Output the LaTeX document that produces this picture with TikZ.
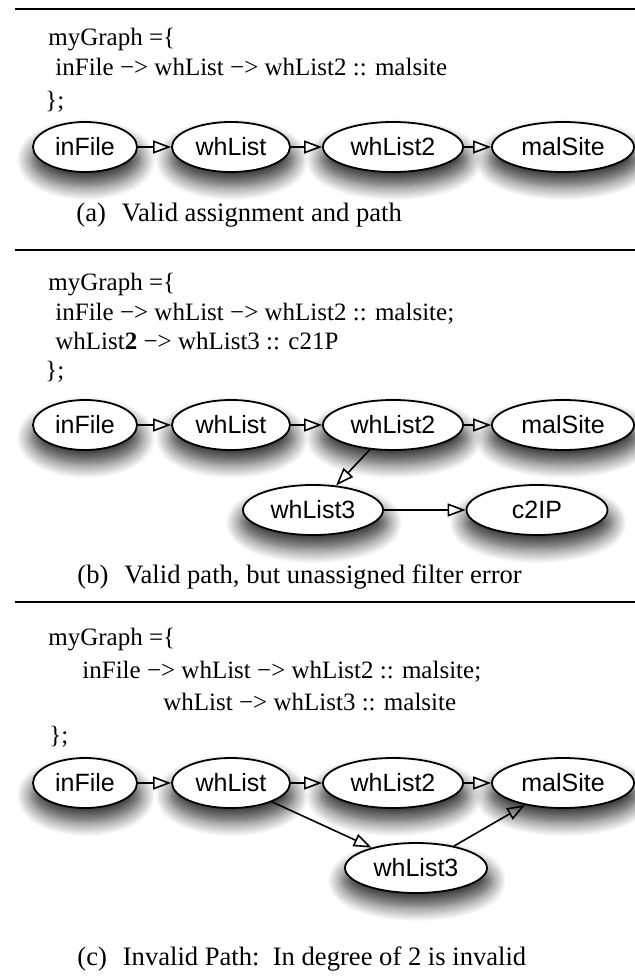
\documentclass[tikz,border=0pt]{standalone}
\usepackage{fontspec}
\setmainfont{Liberation Serif}
\setsansfont{Liberation Sans}
\usetikzlibrary{arrows.meta,shapes.geometric,shadows.blur}

\begin{document}
\begin{tikzpicture}[x=0.5pt, y=-0.5pt,
  %% Filter nodes — white ellipses with a soft drop shadow
  fnode/.style={
    draw=black, fill=white, ellipse, line width=0.9pt,
    minimum height=25pt, inner sep=0pt,
    font=\sffamily\fontsize{12.5}{15}\selectfont,
    blur shadow={shadow xshift=0.5pt, shadow yshift=-6pt, shadow scale=1.05,
      shadow blur radius=7pt, shadow blur steps=14, shadow opacity=80}
  },
  %% Code lines and captions
  code/.style={anchor=base west, inner sep=0pt, font=\fontsize{12.5}{15}\selectfont},
  capt/.style={anchor=base west, inner sep=0pt, font=\fontsize{13.3}{16}\selectfont},
  divider/.style={line width=1pt},
  arr/.style={-{Triangle[open, length=9pt, width=6.5pt]}, line width=0.8pt}
]
\useasboundingbox (0,0) rectangle (635,978);

%% ── (a) ──────────────────────────────────────────────────────
\draw[divider] (15,9) -- (635,9);
\node[code] (aL1) at (48,46)  {myGraph =\{};
\node[code] (aL2) at (55,76)  {inFile −> whList −> whList2 :: malsite};
\node[code] (aL3) at (45,109) {\};};

\node[fnode, minimum width=52pt] (aIn)  at (85,147)  {inFile};
\node[fnode, minimum width=59pt] (aWh)  at (231,147) {whList};
\node[fnode, minimum width=70pt] (aWh2) at (393,147) {whList2};
\node[fnode, minimum width=71pt] (aMal) at (563,147) {malSite};

\draw[arr] (aIn)  -- (aWh);
\draw[arr] (aWh)  -- (aWh2);
\draw[arr] (aWh2) -- (aMal);

\node[capt] (aCap) at (76,222) {(a)\hspace{0.6em}Valid assignment and path};

%% ── (b) ──────────────────────────────────────────────────────
\draw[divider] (15,250) -- (635,250);
\node[code] (bL1) at (48,291) {myGraph =\{};
\node[code] (bL2) at (55,321) {inFile −> whList −> whList2 :: malsite;};
\node[code] (bL3) at (55,350) {whList\textbf{2} −> whList3 :: c21P};
\node[code] (bL4) at (45,378) {\};};

\node[fnode, minimum width=52pt] (bIn)  at (85,425)  {inFile};
\node[fnode, minimum width=59pt] (bWh)  at (231,425) {whList};
\node[fnode, minimum width=70pt] (bWh2) at (393,425) {whList2};
\node[fnode, minimum width=71pt] (bMal) at (563,425) {malSite};
\node[fnode, minimum width=70pt] (bWh3) at (313,510) {whList3};
\node[fnode, minimum width=70.5pt] (bC2ip) at (537,510) {c2IP};

\draw[arr] (bIn)  -- (bWh);
\draw[arr] (bWh)  -- (bWh2);
\draw[arr] (bWh2) -- (bMal);
\draw[arr] (bWh2) -- (bWh3);
\draw[arr] (bWh3) -- (bC2ip);

\node[capt] (bCap) at (77,583) {(b)\hspace{0.6em}Valid path, but unassigned filter error};

%% ── (c) ──────────────────────────────────────────────────────
\draw[divider] (15,602) -- (635,602);
\node[code] (cL1) at (48,645)  {myGraph =\{};
\node[code] (cL2) at (82,678)  {inFile −> whList −> whList2 :: malsite;};
\node[code] (cL3) at (163,710) {whList −> whList3 :: malsite};
\node[code] (cL4) at (49,743)  {\};};

\node[fnode, minimum width=52pt] (cIn)  at (85,783)  {inFile};
\node[fnode, minimum width=59pt] (cWh)  at (231,783) {whList};
\node[fnode, minimum width=70pt] (cWh2) at (393,783) {whList2};
\node[fnode, minimum width=71pt] (cMal) at (563,783) {malSite};
\node[fnode, minimum width=71pt] (cWh3) at (416,868) {whList3};

\draw[arr] (cIn)  -- (cWh);
\draw[arr] (cWh)  -- (cWh2);
\draw[arr] (cWh2) -- (cMal);
\draw[arr] (cWh)  -- (cWh3);
\draw[arr] (cWh3) -- (cMal);

\node[capt] (cCap) at (77,965) {(c)\hspace{0.6em}Invalid Path:\ \ In degree of 2 is invalid};

\end{tikzpicture}
\end{document}
